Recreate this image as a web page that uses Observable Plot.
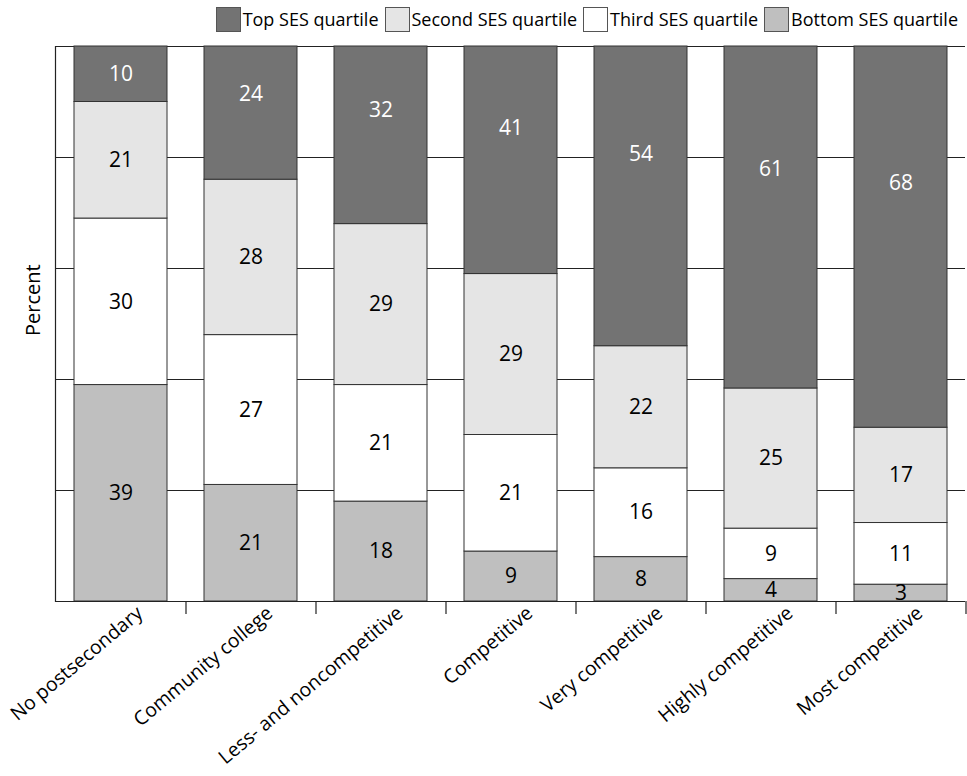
<!DOCTYPE html>
<html>
<head>
<meta charset="utf-8">
<script src="https://cdn.jsdelivr.net/npm/d3@7"></script>
<script src="https://cdn.jsdelivr.net/npm/@observablehq/plot@0.6"></script>
<style>
  html, body { margin: 0; padding: 0; background: #fff; }
  body { width: 967px; font-family: "Open Sans", sans-serif; }
  #legend { height: 38px; display: flex; align-items: center; justify-content: flex-end; padding-right: 9px; box-sizing: border-box; font-size: 18px; color: #000; }
  #legend .item { display: flex; align-items: center; margin-left: 6px; }
  #legend .sw { width: 25px; height: 25px; box-sizing: border-box; border: 1px solid #555; margin-right: 2px; }
  #chart svg { display: block; }
</style>
</head>
<body>
<div id="legend"></div>
<div id="chart"></div>
<script>
const categories = ["No postsecondary", "Community college", "Less- and noncompetitive", "Competitive", "Very competitive", "Highly competitive", "Most competitive"];
const seriesNames = ["Top SES quartile", "Second SES quartile", "Third SES quartile", "Bottom SES quartile"];
const seriesColors = ["#737373", "#e5e5e5", "#ffffff", "#bfbfbf"];
const topSES    = [10, 24, 32, 41, 54, 61, 68];
const secondSES = [21, 28, 29, 29, 22, 25, 17];
const thirdSES  = [30, 27, 21, 21, 16, 9, 11];
const bottomSES = [39, 21, 18, 9, 8, 4, 3];
const gridValues = [0.2, 0.4, 0.6, 0.8, 1.0];

// stacking order from bottom to top
const stackOrder = ["Bottom SES quartile", "Third SES quartile", "Second SES quartile", "Top SES quartile"];
const valuesBySeries = {
  "Top SES quartile": topSES,
  "Second SES quartile": secondSES,
  "Third SES quartile": thirdSES,
  "Bottom SES quartile": bottomSES
};

const rows = [];
const labelRows = [];
categories.forEach((c, i) => {
  const total = stackOrder.reduce((s, k) => s + valuesBySeries[k][i], 0);
  let cum = 0;
  stackOrder.forEach(k => {
    const v = valuesBySeries[k][i];
    rows.push({category: c, series: k, value: v});
    const f = k === "Top SES quartile" ? (v > 15 ? 0.64 : 0.5) : 0.5;
    labelRows.push({category: c, series: k, value: v, ly: (cum + v * f) / total});
    cum += v;
  });
});

// legend
const legend = document.getElementById("legend");
seriesNames.forEach((s, i) => {
  const item = document.createElement("div");
  item.className = "item";
  const sw = document.createElement("div");
  sw.className = "sw";
  sw.style.background = seriesColors[i];
  const lab = document.createElement("span");
  lab.textContent = s;
  item.appendChild(sw);
  item.appendChild(lab);
  legend.appendChild(item);
});

const chart = Plot.plot({
  width: 967,
  height: 738,
  marginTop: 8,
  marginLeft: 55,
  marginRight: 2,
  marginBottom: 175,
  style: {fontFamily: "Open Sans, sans-serif", fontSize: "20px", color: "#000", background: "#fff"},
  x: {type: "band", domain: categories, paddingInner: 0.285, paddingOuter: 0.1425, label: null},
  y: {domain: [0, 1], label: null, axis: null},
  color: {domain: seriesNames, range: seriesColors},
  marks: [
    Plot.ruleY(gridValues, {stroke: "#222", strokeWidth: 1}),
    Plot.barY(rows, Plot.stackY({x: "category", y: "value", fill: "series", order: stackOrder, offset: "normalize", stroke: "#333", strokeWidth: 1})),
    Plot.text(labelRows, {x: "category", y: "ly", text: d => String(d.value), fill: d => d.series === "Top SES quartile" ? "#fff" : "#000", fontSize: 21}),
    Plot.ruleY([0], {stroke: "#222", strokeWidth: 1.2}),
    Plot.frame({anchor: "left", stroke: "#222", strokeWidth: 1.2}),
    Plot.ruleX(categories, {x: d => d, y1: 0, y2: 0, dx: 65, insetBottom: -13, stroke: "#222", strokeWidth: 1.2}),
    Plot.axisX({tickSize: 0, tickRotate: -40, tickPadding: 9, dx: 19, fontSize: 19.5, label: null}),
    Plot.text(["Percent"], {frameAnchor: "left", rotate: -90, dx: -22, dy: 12, textAnchor: "start", fontSize: 20, fill: "#000"})
  ]
});
document.getElementById("chart").appendChild(chart);
</script>
</body>
</html>
